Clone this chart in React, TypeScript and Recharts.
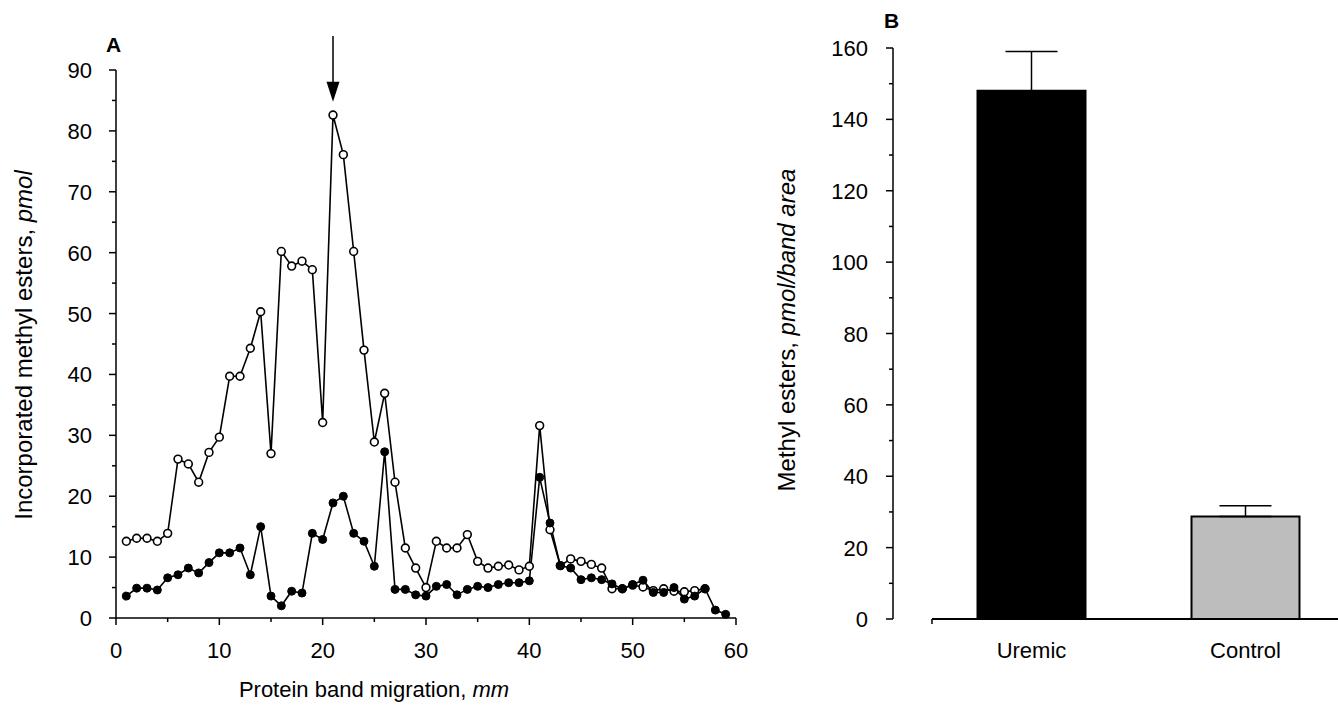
import React from 'react';
import { LineChart, Line, XAxis, YAxis, ReferenceLine, BarChart, Bar, Cell, ErrorBar } from 'recharts';

// ---------- Panel A data ----------
const migrationMm = [
  1, 2, 3, 4, 5, 6, 7, 8, 9, 10, 11, 12, 13, 14, 15, 16, 17, 18, 19, 20,
  21, 22, 23, 24, 25, 26, 27, 28, 29, 30, 31, 32, 33, 34, 35, 36, 37, 38, 39, 40,
  41, 42, 43, 44, 45, 46, 47, 48, 49, 50, 51, 52, 53, 54, 55, 56, 57, 58, 59,
];
const openCircleValues = [
  12.6, 13.1, 13.1, 12.6, 13.9, 26.1, 25.3, 22.3, 27.2, 29.7,
  39.7, 39.7, 44.3, 50.3, 27.0, 60.2, 57.8, 58.6, 57.2, 32.1,
  82.6, 76.1, 60.2, 44.0, 28.9, 36.9, 22.3, 11.5, 8.2, 5.0,
  12.6, 11.5, 11.5, 13.7, 9.3, 8.2, 8.5, 8.7, 7.9, 8.5,
  31.6, 14.5, 8.6, 9.7, 9.3, 8.8, 8.2, 4.8, 4.8, 5.4,
  5.1, 4.5, 4.8, 4.4, 4.3, 4.5, 4.8,
];
const filledCircleValues = [
  3.6, 4.9, 4.9, 4.6, 6.6, 7.1, 8.2, 7.4, 9.1, 10.7,
  10.7, 11.5, 7.1, 15.0, 3.6, 2.0, 4.4, 4.1, 13.9, 12.9,
  18.9, 20.0, 13.9, 12.6, 8.5, 27.3, 4.7, 4.7, 3.8, 3.6,
  5.2, 5.5, 3.8, 4.7, 5.2, 5.0, 5.5, 5.8, 5.8, 6.1,
  23.1, 15.6, 8.6, 8.2, 6.3, 6.6, 6.3, 5.6, 4.8, 5.5,
  6.2, 4.2, 4.2, 5.0, 3.1, 3.6, 4.8, 1.3, 0.6,
];
const leftXTicks = [0, 5, 10, 15, 20, 25, 30, 35, 40, 45, 50, 55, 60];
const leftYTicks = [0, 5, 10, 15, 20, 25, 30, 35, 40, 45, 50, 55, 60, 65, 70, 75, 80, 85, 90];
const arrowMm = 21;
const arrowTopValue = 95.6;
const arrowTipValue = 84.8;

// ---------- Panel B data ----------
const groupNames = ['Uremic', 'Control'];
const groupMeans = [148, 28.7];
const groupErrors = [11, 3];
const groupFills = ['#000000', '#bdbdbd'];
const rightYTicks = [0, 10, 20, 30, 40, 50, 60, 70, 80, 90, 100, 110, 120, 130, 140, 150, 160];

const profileData = migrationMm.map((mm, i) => ({
  mm,
  open: openCircleValues[i],
  filled: filledCircleValues[i],
}));
const barData = groupNames.map((name, i) => ({
  name,
  value: groupMeans[i],
  err: [0, groupErrors[i]],
}));

const FONT = '"Liberation Sans", Arial, Helvetica, sans-serif';

const LeftYTick = (props: any) => {
  const { x, y, payload } = props;
  const v = payload.value;
  const major = v % 10 === 0;
  return (
    <g>
      <line x1={x - (major ? 7 : 4)} y1={y} x2={x} y2={y} stroke="#000" strokeWidth={1.5} />
      {major && (
        <text x={x - 24} y={y + 8} textAnchor="end" fontSize={22} fontFamily={FONT} fill="#000">
          {v}
        </text>
      )}
    </g>
  );
};

const LeftXTick = (props: any) => {
  const { x, y, payload } = props;
  const v = payload.value;
  const major = v % 10 === 0;
  return (
    <g>
      <line x1={x} y1={y} x2={x} y2={y + (major ? 7 : 4)} stroke="#000" strokeWidth={1.5} />
      {major && (
        <text x={x} y={y + 40} textAnchor="middle" fontSize={22} fontFamily={FONT} fill="#000">
          {v}
        </text>
      )}
    </g>
  );
};

const RightYTick = (props: any) => {
  const { x, y, payload } = props;
  const v = payload.value;
  const major = v % 20 === 0;
  return (
    <g>
      <line x1={x - (major ? 7 : 4)} y1={y} x2={x} y2={y} stroke="#000" strokeWidth={1.5} />
      {major && (
        <text x={x - 25} y={y + 8} textAnchor="end" fontSize={22} fontFamily={FONT} fill="#000">
          {v}
        </text>
      )}
    </g>
  );
};

const RightXTick = (props: any) => {
  const { x, y, payload } = props;
  return (
    <text x={x} y={y + 39} textAnchor="middle" fontSize={22} fontFamily={FONT} fill="#000">
      {payload.value}
    </text>
  );
};

const ArrowShape = (props: any) => {
  const { x1, y1, x2, y2 } = props;
  const top = Math.min(y1, y2);
  const tip = Math.max(y1, y2);
  const headH = 20;
  const headW = 6.5;
  return (
    <g>
      <line x1={x1} y1={top} x2={x1} y2={tip - headH + 2} stroke="#000" strokeWidth={1.5} />
      <polygon
        points={`${x1 - headW},${tip - headH} ${x1 + headW},${tip - headH} ${x1},${tip}`}
        fill="#000"
      />
    </g>
  );
};

const RightBaseline = (props: any) => {
  const { x1, y1, x2 } = props;
  const start = Math.min(x1, x2) + 39;
  const end = Math.max(x1, x2);
  return (
    <g>
      <line x1={start} y1={y1} x2={end} y2={y1} stroke="#000" strokeWidth={2} />
      <line x1={start} y1={y1} x2={start} y2={y1 + 5} stroke="#000" strokeWidth={1.5} />
    </g>
  );
};

export default function App() {
  return (
    <div
      style={{
        position: 'absolute',
        left: 0,
        top: 0,
        width: 1338,
        height: 710,
        overflow: 'hidden',
        background: '#fff',
        fontFamily: FONT,
      }}
    >
      <div style={{ position: 'absolute', left: 0, top: 0 }}>
        <LineChart
          width={760}
          height={710}
          data={profileData}
          margin={{ top: 70, right: 24, bottom: 32, left: 16 }}
        >
          <XAxis
            type="number"
            dataKey="mm"
            domain={[0, 60]}
            ticks={leftXTicks}
            interval={0}
            height={60}
            tickSize={0}
            tickMargin={0}
            tickLine={false}
            axisLine={{ stroke: '#000', strokeWidth: 1.5 }}
            tick={<LeftXTick />}
          />
          <YAxis
            type="number"
            domain={[0, 90]}
            ticks={leftYTicks}
            interval={0}
            width={100}
            tickSize={0}
            tickMargin={0}
            tickLine={false}
            axisLine={{ stroke: '#000', strokeWidth: 1.5 }}
            tick={<LeftYTick />}
          />
          <ReferenceLine
            segment={[
              { x: arrowMm, y: arrowTopValue },
              { x: arrowMm, y: arrowTipValue },
            ]}
            ifOverflow="visible"
            shape={ArrowShape}
          />
          <Line
            type="linear"
            dataKey="open"
            stroke="#000"
            strokeWidth={1.6}
            dot={{ r: 3.9, fill: '#fff', stroke: '#000', strokeWidth: 1.6 }}
            isAnimationActive={false}
          />
          <Line
            type="linear"
            dataKey="filled"
            stroke="#000"
            strokeWidth={1.6}
            dot={{ r: 4, fill: '#000', stroke: '#000', strokeWidth: 1 }}
            isAnimationActive={false}
          />
        </LineChart>
      </div>

      <div style={{ position: 'absolute', left: 760, top: 0 }}>
        <BarChart
          width={600}
          height={710}
          data={barData}
          margin={{ top: 48, right: 7.5, bottom: 31, left: 0 }}
        >
          <XAxis
            dataKey="name"
            type="category"
            padding={{ left: 31.5, right: 0 }}
            height={60}
            tickSize={0}
            tickMargin={0}
            tickLine={false}
            axisLine={false}
            interval={0}
            tick={<RightXTick />}
          />
          <YAxis
            type="number"
            domain={[0, 160]}
            ticks={rightYTicks}
            interval={0}
            width={133}
            tickSize={0}
            tickMargin={0}
            tickLine={false}
            axisLine={{ stroke: '#000', strokeWidth: 1.5 }}
            tick={<RightYTick />}
          />
          <Bar dataKey="value" barSize={108} isAnimationActive={false}>
            {barData.map((d, i) => (
              <Cell key={d.name} fill={groupFills[i]} stroke="#000" strokeWidth={2} />
            ))}
            <ErrorBar dataKey="err" direction="y" width={26} stroke="#000" strokeWidth={1.5} />
          </Bar>
          <ReferenceLine y={0} shape={RightBaseline} />
        </BarChart>
      </div>

      <svg
        width={1338}
        height={710}
        style={{ position: 'absolute', left: 0, top: 0, pointerEvents: 'none' }}
      >
        <text x={106} y={52} fontSize={21} fontWeight="bold" fontFamily={FONT} fill="#000">A</text>
        <text x={884} y={28} fontSize={21} fontWeight="bold" fontFamily={FONT} fill="#000">B</text>
        <text
          x={31.5}
          y={345}
          transform="rotate(-90 31.5 345)"
          textAnchor="middle"
          fontSize={24}
          fontFamily={FONT}
          fill="#000"
        >
          Incorporated methyl esters, <tspan fontStyle="italic">pmol</tspan>
        </text>
        <text x={374} y={697} textAnchor="middle" fontSize={22} fontFamily={FONT} fill="#000">
          Protein band migration, <tspan fontStyle="italic">mm</tspan>
        </text>
        <text
          x={795}
          y={330}
          transform="rotate(-90 795 330)"
          textAnchor="middle"
          fontSize={24}
          fontFamily={FONT}
          fill="#000"
        >
          Methyl esters, <tspan fontStyle="italic">pmol/band area</tspan>
        </text>
      </svg>
    </div>
  );
}
